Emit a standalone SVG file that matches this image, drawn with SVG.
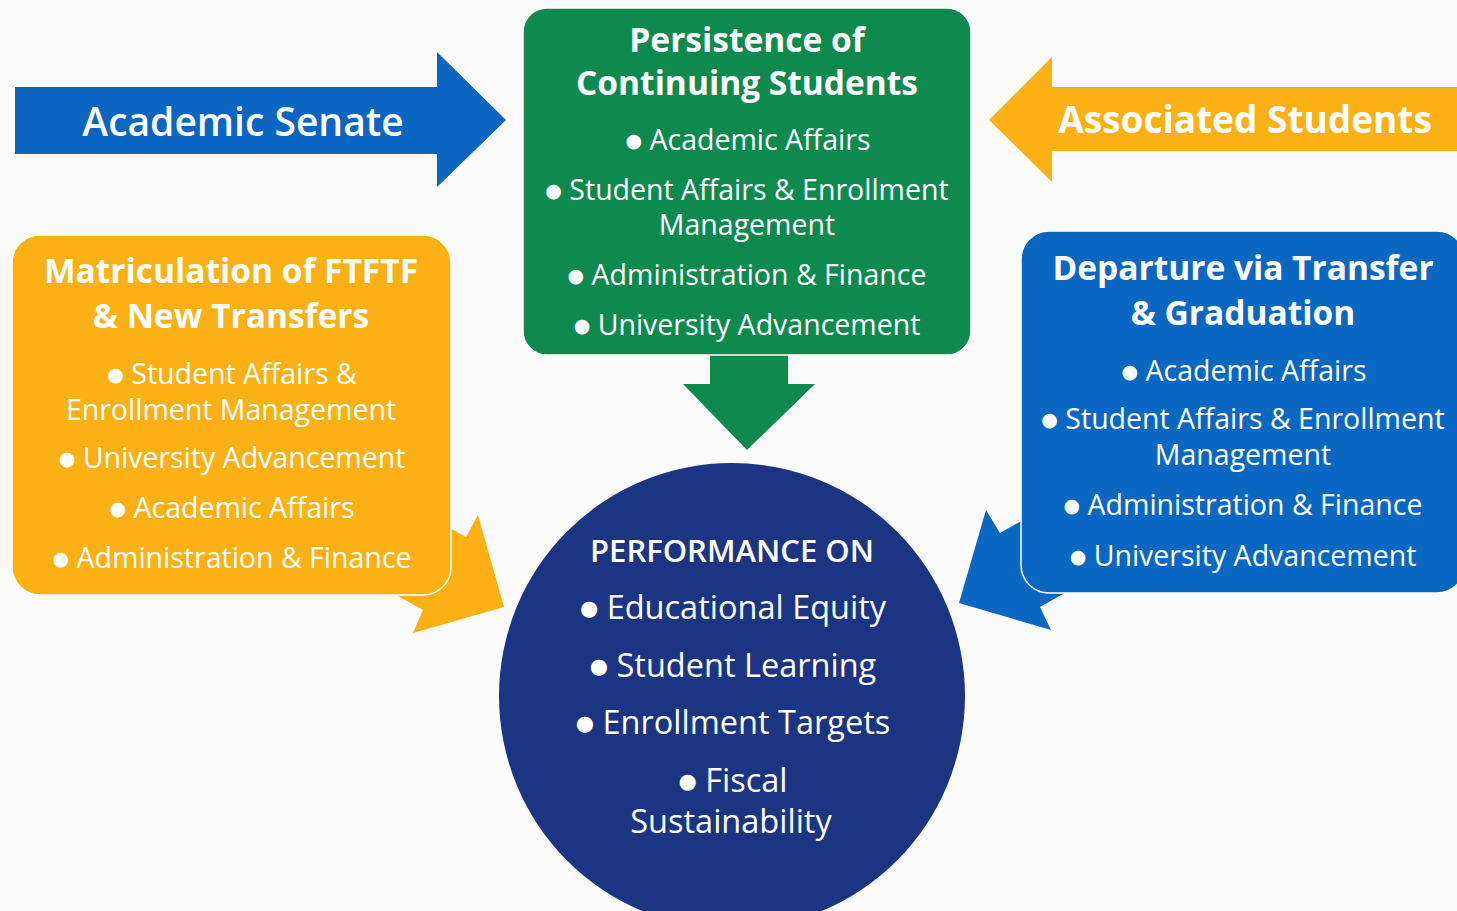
<svg xmlns="http://www.w3.org/2000/svg" width="1457" height="911" viewBox="0 0 1457 911">
<style>
text{font-family:"Open Sans","Liberation Sans",sans-serif;fill:#fff;text-anchor:middle}
.t{font-weight:700;font-size:33.5px}
.i{font-size:28.5px}
.c{font-size:32.5px}
.b{font-family:"DejaVu Sans",sans-serif;font-size:19px}
.cb{font-family:"DejaVu Sans",sans-serif;font-size:21px}
.box{stroke:#fff;stroke-width:1.5}
</style>
<rect width="1457" height="911" fill="#fbfbfb"/>
<g id="connectors">
<polygon id="arrow-senate" fill="#0b66c2" points="15,87 437,87 437,52 506,120 437,187 437,154 15,154"/>
<polygon id="arrow-students" fill="#fbb116" points="1457,87 1052,87 1052,57 989,120 1052,182 1052,151 1457,151"/>
<polygon id="arrow-green" fill="#0f8a4f" points="710,350 788,350 788,384 815,384 747,450 683,384 710,384"/>
<polygon id="arrow-yellow" fill="#fbb116" points="504,607 478,515 466,537 379,488 336,561 423,610 413,633"/>
<polygon id="arrow-blue" fill="#0a68c2" points="959,603 986,510 1000,533 1087,484 1127,558 1040,607 1051,630"/>
</g>
<g id="node-persistence">
<rect class="box" x="523" y="8" width="448" height="347" rx="24" fill="#0f8a4f"/>
<text class="t" x="747" y="52">Persistence of</text>
<text class="t" x="747" y="95">Continuing Students</text>
<text class="i" x="748" y="150"><tspan class="b" dy="-3">●</tspan><tspan dy="3"> Academic Affairs</tspan></text>
<text class="i" x="747" y="200"><tspan class="b" dy="-3">●</tspan><tspan dy="3"> Student Affairs &amp; Enrollment</tspan></text>
<text class="i" x="747" y="235">Management</text>
<text class="i" x="747" y="285"><tspan class="b" dy="-3">●</tspan><tspan dy="3"> Administration &amp; Finance</tspan></text>
<text class="i" x="747" y="335"><tspan class="b" dy="-3">●</tspan><tspan dy="3"> University Advancement</tspan></text>
</g>
<g id="node-matriculation">
<rect class="box" x="12" y="235" width="439" height="360" rx="28" fill="#fbb116"/>
<text class="t" x="231" y="283">Matriculation of FTFTF</text>
<text class="t" x="231" y="328">&amp; New Transfers</text>
<text class="i" x="232" y="384"><tspan class="b" dy="-3">●</tspan><tspan dy="3"> Student Affairs &amp;</tspan></text>
<text class="i" x="231" y="420">Enrollment Management</text>
<text class="i" x="232" y="468"><tspan class="b" dy="-3">●</tspan><tspan dy="3"> University Advancement</tspan></text>
<text class="i" x="232" y="518"><tspan class="b" dy="-3">●</tspan><tspan dy="3"> Academic Affairs</tspan></text>
<text class="i" x="232" y="568"><tspan class="b" dy="-3">●</tspan><tspan dy="3"> Administration &amp; Finance</tspan></text>
</g>
<g id="node-departure">
<rect class="box" x="1021" y="231" width="444" height="362" rx="28" fill="#0a68c2"/>
<text class="t" x="1243" y="280">Departure via Transfer</text>
<text class="t" x="1243" y="325">&amp; Graduation</text>
<text class="i" x="1244" y="381"><tspan class="b" dy="-3">●</tspan><tspan dy="3"> Academic Affairs</tspan></text>
<text class="i" x="1243" y="429"><tspan class="b" dy="-3">●</tspan><tspan dy="3"> Student Affairs &amp; Enrollment</tspan></text>
<text class="i" x="1243" y="465">Management</text>
<text class="i" x="1243" y="515"><tspan class="b" dy="-3">●</tspan><tspan dy="3"> Administration &amp; Finance</tspan></text>
<text class="i" x="1243" y="566"><tspan class="b" dy="-3">●</tspan><tspan dy="3"> University Advancement</tspan></text>
</g>
<g id="node-performance">
<circle cx="732" cy="696" r="233" fill="#1b3583"/>
<text x="732" y="562" style="font-size:31px;font-weight:600">PERFORMANCE ON</text>
<text class="c" x="733" y="619"><tspan class="cb" dy="-4">●</tspan><tspan dy="4"> Educational Equity</tspan></text>
<text class="c" x="733" y="677"><tspan class="cb" dy="-4">●</tspan><tspan dy="4"> Student Learning</tspan></text>
<text class="c" x="733" y="734"><tspan class="cb" dy="-4">●</tspan><tspan dy="4"> Enrollment Targets</tspan></text>
<text class="c" x="733" y="792"><tspan class="cb" dy="-4">●</tspan><tspan dy="4"> Fiscal</tspan></text>
<text class="c" x="731" y="833">Sustainability</text>
</g>
<g id="labels">
<text x="243" y="136" style="font-size:39px;font-weight:600">Academic Senate</text>
<text x="1245" y="133" style="font-size:37px;font-weight:700">Associated Students</text>
</g>
</svg>
